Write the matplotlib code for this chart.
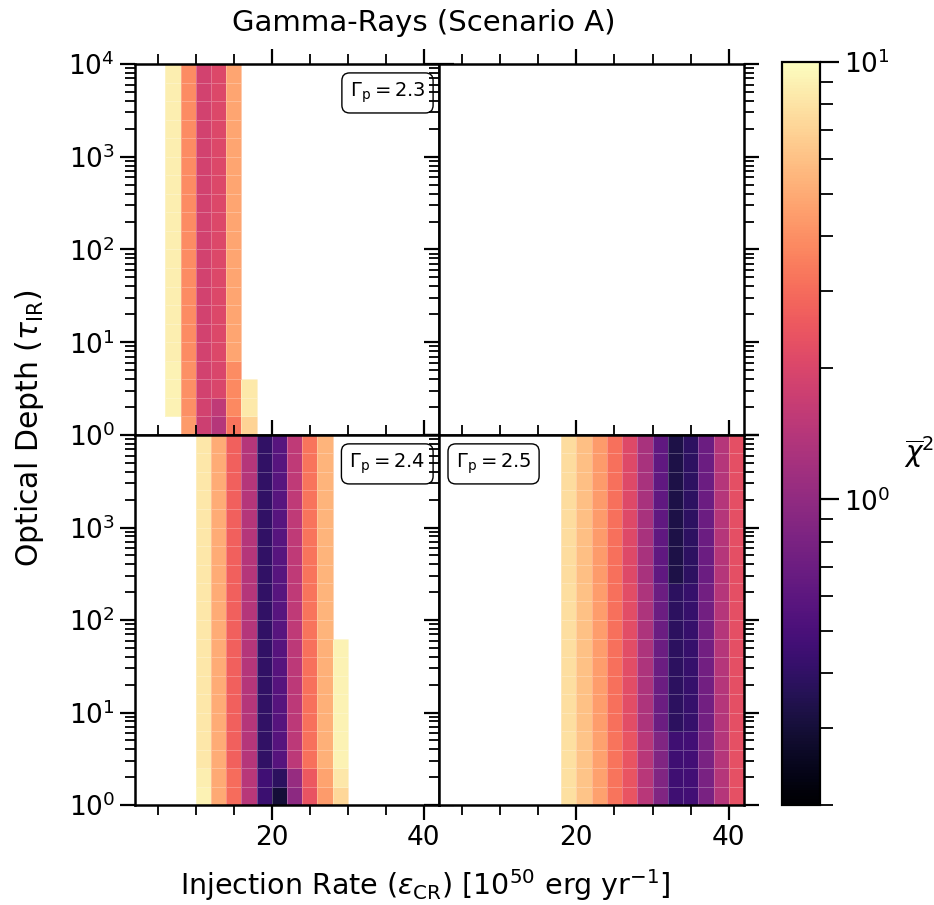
import numpy as np
import matplotlib
matplotlib.use("Agg")
import matplotlib.pyplot as plt
from matplotlib.colors import LogNorm
from matplotlib.ticker import MultipleLocator, LogLocator, FixedLocator, NullFormatter

# bin edges: injection rate [1e50 erg/yr] and log10(tau_IR)
eps_edges = [2, 4, 6, 8, 10, 12, 14, 16, 18, 20, 22,
             24, 26, 28, 30, 32, 34, 36, 38, 40, 42]
logtau_edges = [0.0, 0.2, 0.4, 0.6, 0.8, 1.0, 1.2, 1.4, 1.6, 1.8, 2.0,
                2.2, 2.4, 2.6, 2.8, 3.0, 3.2, 3.4, 3.6, 3.8, 4.0]

nan = np.nan

# reduced chi^2 per panel: column left edges + row bands (first row, last row, values)
g23_x = [6, 8, 10, 12, 14, 16]
g23_bands = [
    (0, 0, [nan, 4.4, 1.75, 1.40, 3.2, 7.0]),
    (1, 1, [9.0, 4.0, 1.85, 1.55, 3.8, 8.4]),
    (2, 2, [9.0, 4.0, 1.85, 2.00, 3.8, 8.4]),
    (3, 3, [9.0, 4.0, 1.85, 2.00, 3.9, nan]),
    (4, 19, [8.8, 3.9, 1.85, 2.05, 4.8, nan]),
]

g24_x = [10, 12, 14, 16, 18, 20, 22, 24, 26, 28]
g24_bands = [
    (0, 0, [9.0, 5.0, 3.0, 1.45, 0.44, 0.30, 0.96, 2.35, 4.4, 7.2]),
    (1, 1, [8.8, 5.0, 3.0, 1.45, 0.46, 0.38, 1.05, 2.50, 4.7, 8.2]),
    (2, 8, [8.3, 5.1, 2.7, 1.41, 0.40, 0.56, 1.50, 3.10, 5.2, 9.0]),
    (9, 19, [8.3, 5.1, 2.7, 1.41, 0.40, 0.57, 1.55, 3.20, 5.4, nan]),
]

g25_x = [18, 20, 22, 24, 26, 28, 30, 32, 34, 36, 38, 40]
g25_bands = [
    (0, 3, [7.8, 6.2, 4.6, 3.2, 2.4, 1.45, 0.85, 0.45, 0.47, 0.80, 1.4, 2.30]),
    (4, 11, [7.6, 6.0, 4.5, 3.1, 2.2, 1.30, 0.70, 0.38, 0.42, 0.74, 1.4, 2.25]),
    (12, 19, [7.5, 5.9, 4.4, 3.1, 2.1, 1.25, 0.62, 0.33, 0.39, 0.70, 1.4, 2.25]),
]


def build_grid(x_lo, bands):
    z = np.full((len(logtau_edges) - 1, len(eps_edges) - 1), np.nan)
    for r0, r1, vals in bands:
        for x, v in zip(x_lo, vals):
            z[r0:r1 + 1, eps_edges.index(x)] = v
    return np.ma.masked_invalid(z)


W, H = 934, 905
fig = plt.figure(figsize=(W / 100, H / 100), dpi=100)


def px_axes(x0, y0, x1, y1):
    return fig.add_axes([x0 / W, 1 - y1 / H, (x1 - x0) / W, (y1 - y0) / H])


norm = LogNorm(vmin=0.2, vmax=10)
xe = np.array(eps_edges)
ye = 10.0 ** np.array(logtau_edges)

ax_tl = px_axes(135, 64, 439, 435)
ax_tr = px_axes(439, 64, 744, 435)
ax_bl = px_axes(135, 435, 439, 805)
ax_br = px_axes(439, 435, 744, 805)

panels = [(ax_tl, g23_x, g23_bands, r"$\Gamma_{\rm p} = 2.3$", "right"),
          (ax_tr, None, None, None, None),
          (ax_bl, g24_x, g24_bands, r"$\Gamma_{\rm p} = 2.4$", "right"),
          (ax_br, g25_x, g25_bands, r"$\Gamma_{\rm p} = 2.5$", "left")]

mesh = None
for ax, x_lo, bands, lab, side in panels:
    if x_lo is not None:
        z = build_grid(x_lo, bands)
        mesh = ax.pcolormesh(xe, ye, z, cmap="magma", norm=norm,
                             edgecolors=(1, 1, 1, 0.25), linewidth=0.5)
    ax.set_yscale("log")
    ax.set_xlim(2, 42)
    ax.set_ylim(1, 1e4)
    ax.xaxis.set_major_locator(MultipleLocator(20))
    ax.xaxis.set_minor_locator(MultipleLocator(5))
    ax.yaxis.set_major_locator(LogLocator(10, numticks=10))
    ax.yaxis.set_minor_locator(LogLocator(10, subs=range(2, 10), numticks=20))
    ax.yaxis.set_minor_formatter(NullFormatter())
    ax.tick_params(which="both", direction="out", top=True, right=True,
                   width=1.6, labelsize=19)
    ax.tick_params(which="major", length=11)
    ax.tick_params(which="minor", length=7, width=1.3)
    for sp in ax.spines.values():
        sp.set_linewidth(1.8)
    if lab is not None:
        xt, ha = (0.955, "right") if side == "right" else (0.055, "left")
        ax.text(xt, 0.955, lab, transform=ax.transAxes, ha=ha, va="top",
                fontsize=14,
                bbox=dict(boxstyle="round,pad=0.4", fc="white", ec="black",
                          lw=1.0))

ax_bl.yaxis.set_major_locator(FixedLocator([1, 10, 100, 1000]))
for ax in (ax_tl, ax_tr):
    ax.tick_params(labelbottom=False)
for ax in (ax_tr, ax_br):
    ax.tick_params(labelleft=False)

cax = px_axes(782, 62, 820, 805)
cb = fig.colorbar(mesh, cax=cax)
cb.outline.set_linewidth(1.6)
cax.tick_params(which="both", direction="out", width=1.6, labelsize=19)
cax.tick_params(which="major", length=14)
cax.tick_params(which="minor", length=9, width=1.3)
cb.set_label(r"$\overline{\chi}^2$", rotation=0, fontsize=20)
cax.yaxis.label.set(ha="left", va="center")
cax.yaxis.set_label_coords(3.2, 0.475)

fig.text(0.454, 0.975, "Gamma-Rays (Scenario A)", ha="center", va="center",
         fontsize=21)
fig.text(0.455, 0.022,
         r"Injection Rate ($\varepsilon_{\rm CR}$) [$10^{50}$ erg yr$^{-1}$]",
         ha="center", va="center", fontsize=20.5)
fig.text(0.032, 0.527, r"Optical Depth ($\tau_{\rm IR}$)", ha="center",
         va="center", rotation=90, fontsize=21.5)

fig.savefig("out.png", dpi=100)
